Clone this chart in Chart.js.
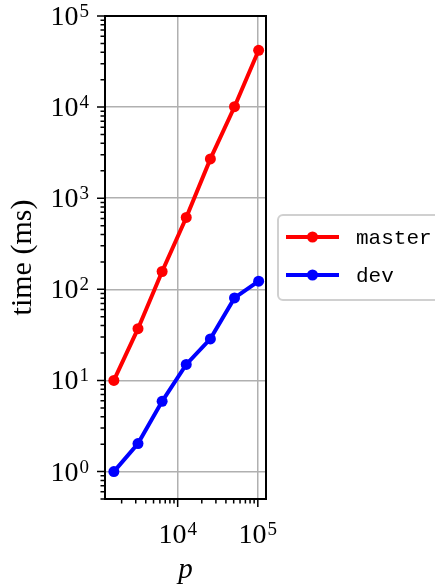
<!DOCTYPE html>
<html>
<head>
<meta charset="utf-8">
<script src="https://cdn.jsdelivr.net/npm/chart.js@4.4.0/dist/chart.umd.min.js"></script>
<style>
  body { margin: 0; background: #fff; }
</style>
</head>
<body>
<canvas id="timing" width="435" height="585"></canvas>
<script>
// problem size p and run times (ms)
const sizes = [1600, 3200, 6400, 12800, 25600, 51200, 102400];
const masterTimes = [10, 37, 157, 615, 2700, 10100, 42000];
const devTimes = [1, 2.03, 5.9, 15, 28.6, 80.5, 123];

// decade ticks (labelled) for each axis
const xMajor = [1e4, 1e5];
const yMajor = [1, 10, 100, 1000, 10000, 100000];

const X_MIN = 1240, X_MAX = 126500;
const Y_MIN = 0.5, Y_MAX = 1e5;

const SERIF = '"Liberation Serif", "DejaVu Serif", serif';
const MONO = '"Liberation Mono", "DejaVu Sans Mono", monospace';

// minor ticks: 2..9 times every decade inside the range
const minorTicks = (min, max) => {
  const out = [];
  for (let e = Math.floor(Math.log10(min)); e <= Math.ceil(Math.log10(max)); e++) {
    for (let k = 2; k <= 9; k++) {
      const v = k * Math.pow(10, e);
      if (v >= min && v <= max) out.push(v);
    }
  }
  return out;
};

const toPoints = (ys) => sizes.map((x, i) => ({ x, y: ys[i] }));

// "10" with a raised exponent
const drawPower = (ctx, value, x, baseline, align) => {
  const exp = String(Math.round(Math.log10(value)));
  ctx.font = '28px ' + SERIF;
  const wBase = ctx.measureText('10').width;
  ctx.font = '19px ' + SERIF;
  const wExp = ctx.measureText(exp).width;
  const total = wBase + wExp + 1;
  let left = x;
  if (align === 'right') left = x - total;
  if (align === 'center') left = x - total / 2;
  ctx.textAlign = 'left';
  ctx.textBaseline = 'alphabetic';
  ctx.font = '28px ' + SERIF;
  ctx.fillText('10', left, baseline);
  ctx.font = '19px ' + SERIF;
  ctx.fillText(exp, left + wBase + 1, baseline - 8);
};

const axesDecor = {
  id: 'axesDecor',
  afterDatasetsDraw(chart) {
    const { ctx, chartArea: a, scales: { x, y } } = chart;
    ctx.save();
    ctx.fillStyle = '#000';
    ctx.strokeStyle = '#000';

    // frame
    ctx.lineWidth = 2;
    ctx.strokeRect(a.left, a.top, a.right - a.left, a.bottom - a.top);

    // tick marks, pointing outwards
    ctx.lineWidth = 1.5;
    ctx.beginPath();
    yMajor.forEach(v => {
      const py = y.getPixelForValue(v);
      ctx.moveTo(a.left, py); ctx.lineTo(a.left - 8, py);
    });
    minorTicks(Y_MIN, Y_MAX).forEach(v => {
      const py = y.getPixelForValue(v);
      ctx.moveTo(a.left, py); ctx.lineTo(a.left - 4.5, py);
    });
    xMajor.forEach(v => {
      const px = x.getPixelForValue(v);
      ctx.moveTo(px, a.bottom); ctx.lineTo(px, a.bottom + 8);
    });
    minorTicks(X_MIN, X_MAX).forEach(v => {
      const px = x.getPixelForValue(v);
      ctx.moveTo(px, a.bottom); ctx.lineTo(px, a.bottom + 4.5);
    });
    ctx.stroke();

    // tick labels
    yMajor.forEach(v => drawPower(ctx, v, a.left - 16, y.getPixelForValue(v) + 9, 'right'));
    xMajor.forEach(v => drawPower(ctx, v, x.getPixelForValue(v), 543, 'center'));

    // axis titles
    ctx.font = '30px ' + SERIF;
    ctx.textAlign = 'center';
    ctx.textBaseline = 'middle';
    ctx.save();
    ctx.translate(23, (a.top + a.bottom) / 2);
    ctx.rotate(-Math.PI / 2);
    ctx.fillText('time (ms)', 0, 0);
    ctx.restore();
    ctx.font = 'italic 29px ' + SERIF;
    ctx.textBaseline = 'alphabetic';
    ctx.fillText('p', (a.left + a.right) / 2, 578);

    // legend, to the right of the axes
    const lx = 278, ly = 215;
    ctx.beginPath();
    ctx.roundRect(lx, ly, 180, 85, 5);
    ctx.fillStyle = 'rgba(255,255,255,0.8)';
    ctx.fill();
    ctx.strokeStyle = '#d0d0d0';
    ctx.lineWidth = 2;
    ctx.stroke();
    chart.data.datasets.forEach((ds, i) => {
      const cy = ly + 22 + i * 38;
      ctx.strokeStyle = ds.borderColor;
      ctx.lineWidth = ds.borderWidth;
      ctx.beginPath();
      ctx.moveTo(lx + 8, cy); ctx.lineTo(lx + 61, cy);
      ctx.stroke();
      ctx.fillStyle = ds.borderColor;
      ctx.beginPath();
      ctx.arc(lx + 34.5, cy, ds.pointRadius, 0, Math.PI * 2);
      ctx.fill();
      ctx.fillStyle = '#000';
      ctx.font = '21px ' + MONO;
      ctx.textAlign = 'left';
      ctx.textBaseline = 'middle';
      ctx.fillText(ds.label, lx + 78, cy + 1);
    });
    ctx.restore();
  }
};

const lineSeries = (label, color, ys) => ({
  label,
  data: toPoints(ys),
  borderColor: color,
  backgroundColor: color,
  borderWidth: 4,
  pointRadius: 5.5,
  pointHoverRadius: 5.5,
  pointBorderWidth: 0,
  pointBackgroundColor: color,
  tension: 0
});

new Chart(document.getElementById('timing'), {
  type: 'line',
  data: {
    datasets: [
      lineSeries('master', '#ff0000', masterTimes),
      lineSeries('dev', '#0000ff', devTimes)
    ]
  },
  options: {
    responsive: false,
    animation: false,
    layout: { padding: { left: 105, top: 16, right: 169, bottom: 86 } },
    plugins: { legend: { display: false }, tooltip: { enabled: false } },
    scales: {
      x: {
        type: 'logarithmic',
        min: X_MIN, max: X_MAX,
        afterBuildTicks: (scale) => { scale.ticks = xMajor.map(value => ({ value })); },
        ticks: { display: false },
        grid: { color: '#b0b0b0', lineWidth: 1.5, drawTicks: false },
        border: { display: false }
      },
      y: {
        type: 'logarithmic',
        min: Y_MIN, max: Y_MAX,
        afterBuildTicks: (scale) => { scale.ticks = yMajor.map(value => ({ value })); },
        ticks: { display: false },
        grid: { color: '#b0b0b0', lineWidth: 1.5, drawTicks: false },
        border: { display: false }
      }
    }
  },
  plugins: [axesDecor]
});
</script>
</body>
</html>
